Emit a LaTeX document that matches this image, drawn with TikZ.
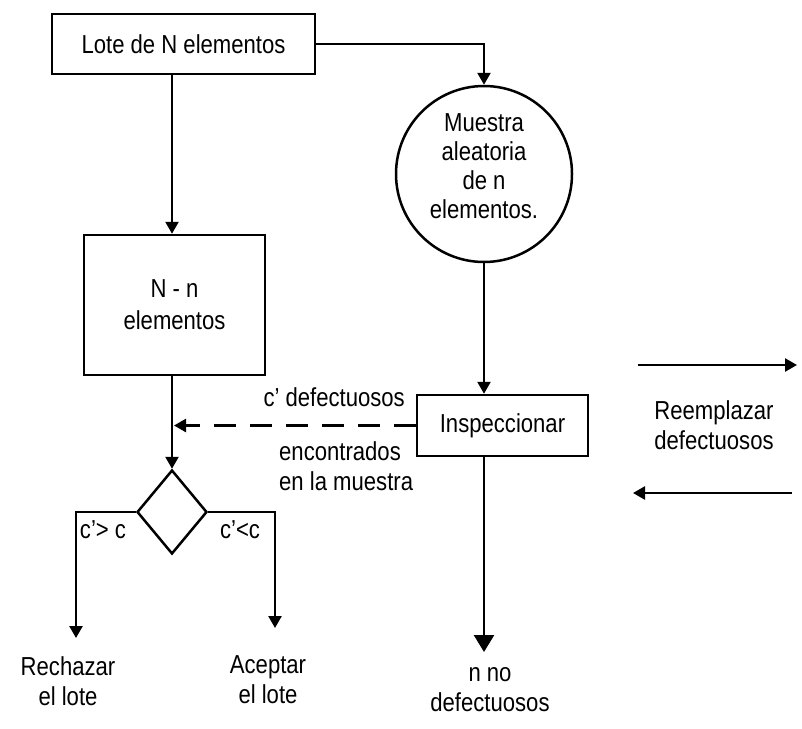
\documentclass[tikz,border=0pt]{standalone}
\usepackage{fontspec}
\setmainfont{Liberation Sans}[FakeStretch=0.85]
\usetikzlibrary{shapes.geometric,arrows.meta}

\begin{document}
\begin{tikzpicture}[x=1pt, y=-1pt,
  box/.style={draw, line width=2.5pt, inner sep=0pt, align=center, font=\fontsize{26}{30}\selectfont},
  flow/.style={line width=2.5pt, -{Triangle[length=12pt,width=13pt]}},
  lbl/.style={inner sep=0pt, align=center, font=\fontsize{26}{30}\selectfont}]
  \useasboundingbox (0,0) rectangle (802,728);

  % Boxes of the flow
  \node[box, minimum width=263, minimum height=60] (lote) at (183.5,44) {Lote de N elementos};
  \node[box, circle, minimum size=176] (muestra) at (484,174) {};
  \node[box, minimum width=181, minimum height=140] (resto) at (174.5,305) {N - n\\[2pt]elementos};
  \node[box, minimum width=171, minimum height=61] (insp) at (502.5,425.5) {Inspeccionar};
  \node[box, diamond, minimum width=70, minimum height=84] (dec) at (172,512) {};

  % Ends of the open arrows
  \coordinate (rechazo) at (76,638);
  \coordinate (acepto) at (275,628);
  \coordinate (salida) at (484,652);
  \coordinate (ida1) at (638,365);
  \coordinate (ida2) at (797,365);
  \coordinate (vuelta1) at (792,493);
  \coordinate (vuelta2) at (633,493);

  % Texts
  \node[lbl, font=\fontsize{26}{29}\selectfont] (muestratxt) at (484,166) {Muestra\\aleatoria\\de n\\elementos.};
  \node[lbl] (rech) at (68,681) {Rechazar\\el lote};
  \node[lbl] (acep) at (268,680) {Aceptar\\el lote};
  \node[lbl] (nodef) at (490,690) {n no\\defectuosos};
  \node[lbl] (cmayor) at (103,530) {c'> c};
  \node[lbl] (cmenor) at (240,530) {c'<c};
  \node[lbl, anchor=east] (cdef) at (405,397) {c' defectuosos};
  \node[lbl, anchor=west, align=left] (enc) at (279,466) {encontrados\\en la muestra};
  \node[lbl] (reemp) at (714,425) {Reemplazar\\defectuosos};

  % Connectors
  \draw[flow] (dec |- lote.south) -- (dec |- resto.north);
  \draw[flow] (lote.east) -| (muestra.north);
  \draw[flow] (muestra.south) -- (muestra |- insp.north);
  \draw[flow] (dec |- resto.south) -- (dec.north);
  \draw[flow, dash pattern=on 22pt off 14pt] (insp.west) -- ([xshift=2pt]insp.west -| dec);
  \draw[flow] (dec.west) -| (rechazo);
  \draw[flow] (dec.east) -| (acepto);
  \draw[line width=2.5pt, -{Triangle[length=17pt,width=20pt]}] (muestra |- insp.south) -- (salida);
  \draw[flow] (ida1) -- (ida2);
  \draw[flow] (vuelta1) -- (vuelta2);
\end{tikzpicture}
\end{document}
